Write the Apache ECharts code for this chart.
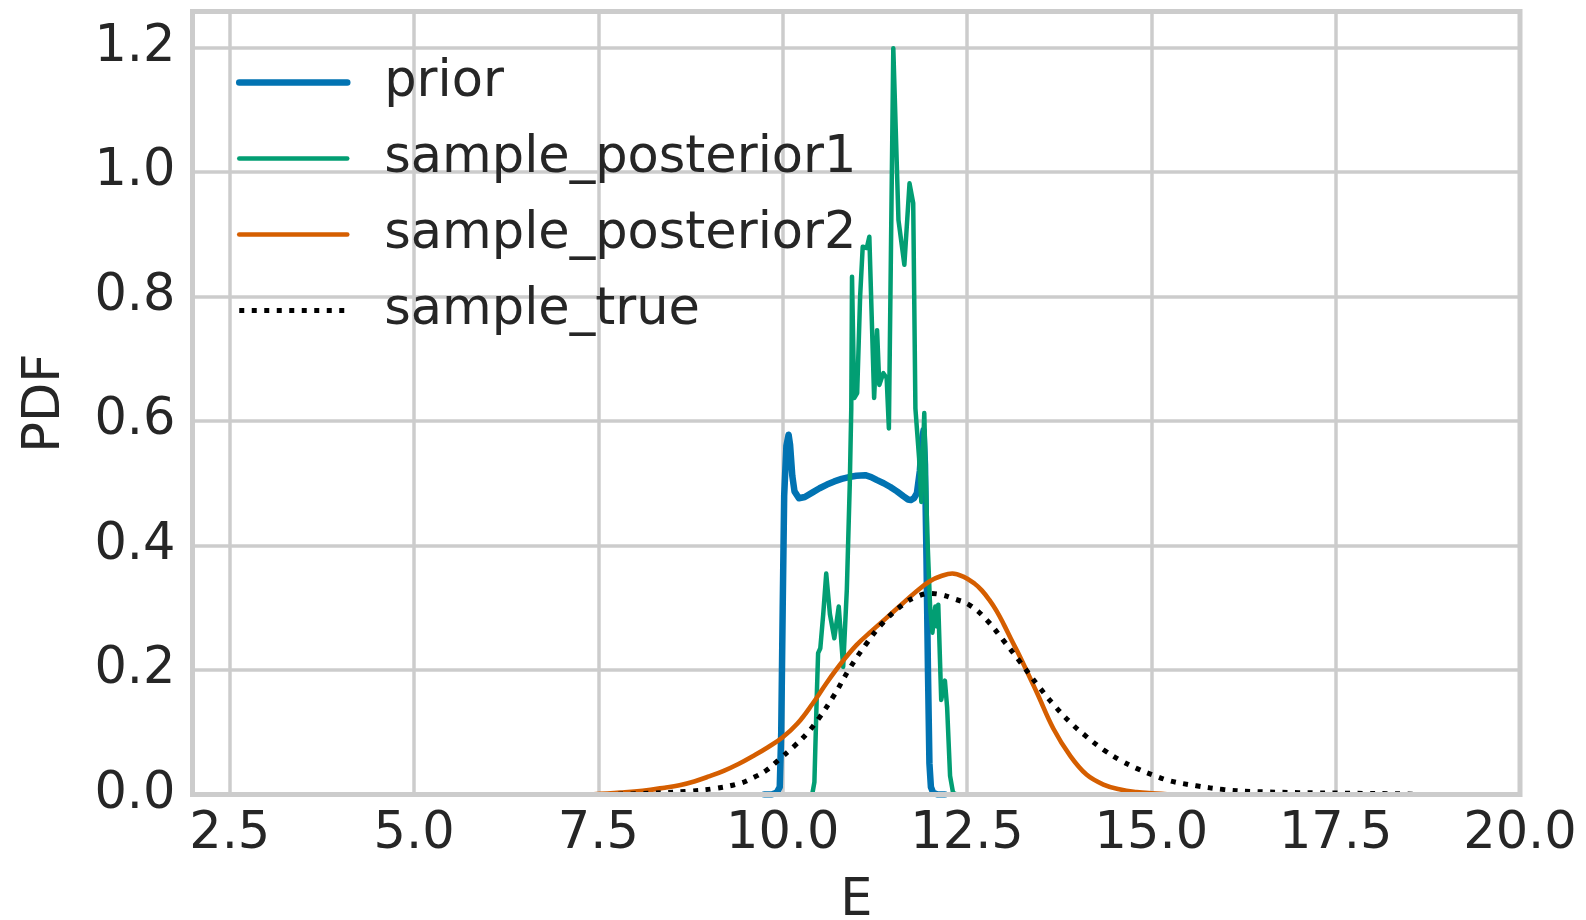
<!DOCTYPE html>
<html>
<head>
<meta charset="utf-8">
<script src="https://cdn.jsdelivr.net/npm/echarts@6/dist/echarts.min.js"></script>
<style>
html,body{margin:0;padding:0;background:#fff;}
#chart{width:1586px;height:920px;}
</style>
</head>
<body>
<div id="chart"></div>
<script>
// ---- data ----
const xTicks = [2.5, 5.0, 7.5, 10.0, 12.5, 15.0, 17.5, 20.0];
const yTicks = [0.0, 0.2, 0.4, 0.6, 0.8, 1.0, 1.2];
const seriesNames = ['prior', 'sample_posterior1', 'sample_posterior2', 'sample_true'];

const priorX = [9.75, 9.85, 9.92, 9.96, 9.98, 10.0, 10.02, 10.05, 10.08, 10.1, 10.13, 10.16, 10.22, 10.3, 10.4, 10.5, 10.6, 10.7, 10.8, 10.9, 11.0, 11.12, 11.2, 11.28, 11.37, 11.46, 11.55, 11.64, 11.7, 11.74, 11.78, 11.82, 11.86, 11.89, 11.91, 11.93, 11.95, 11.97, 11.99, 12.01, 12.04, 12.1, 12.2];
const priorY = [0.0, 0.0, 0.003, 0.012, 0.1, 0.3, 0.48, 0.56, 0.578, 0.562, 0.512, 0.487, 0.476, 0.478, 0.485, 0.492, 0.498, 0.503, 0.507, 0.51, 0.512, 0.513, 0.51, 0.505, 0.5, 0.494, 0.487, 0.479, 0.474, 0.473, 0.476, 0.484, 0.52, 0.57, 0.585, 0.53, 0.38, 0.2, 0.05, 0.012, 0.003, 0.0, 0.0];

const post1X = [10.35, 10.4, 10.43, 10.46, 10.48, 10.51, 10.55, 10.59, 10.64, 10.7, 10.76, 10.82, 10.87, 10.91, 10.93, 10.94, 10.97, 11.01, 11.05, 11.085, 11.14, 11.175, 11.24, 11.28, 11.31, 11.365, 11.41, 11.44, 11.5, 11.57, 11.65, 11.72, 11.77, 11.8, 11.85, 11.88, 11.92, 11.96, 12.0, 12.03, 12.07, 12.09, 12.11, 12.15, 12.2, 12.23, 12.27, 12.31, 12.36];
const post1Y = [0.0, 0.0, 0.02, 0.15, 0.227, 0.235, 0.29, 0.355, 0.29, 0.251, 0.302, 0.205, 0.33, 0.5, 0.62, 0.832, 0.637, 0.645, 0.8, 0.88, 0.878, 0.896, 0.637, 0.746, 0.658, 0.677, 0.669, 0.588, 1.199, 0.923, 0.851, 0.982, 0.95, 0.62, 0.54, 0.47, 0.613, 0.42, 0.3, 0.26, 0.302, 0.27, 0.305, 0.152, 0.183, 0.14, 0.03, 0.003, 0.0];

const post2X = [7.4, 7.8, 8.1, 8.4, 8.6, 8.8, 9.0, 9.2, 9.4, 9.6, 9.8, 10.0, 10.2, 10.4, 10.6, 10.8, 11.0, 11.2, 11.4, 11.6, 11.8, 12.0, 12.15, 12.3, 12.45, 12.6, 12.7, 12.8, 12.9, 13.0, 13.1, 13.22, 13.45, 13.67, 13.9, 14.12, 14.35, 14.58, 14.8, 15.0, 15.3];
const post2Y = [0.0, 0.003, 0.006, 0.011, 0.015, 0.021, 0.029, 0.038, 0.049, 0.062, 0.076, 0.092, 0.114, 0.145, 0.18, 0.212, 0.24, 0.262, 0.283, 0.304, 0.325, 0.343, 0.351, 0.355, 0.35, 0.339, 0.328, 0.313, 0.295, 0.273, 0.249, 0.221, 0.163, 0.106, 0.062, 0.032, 0.016, 0.008, 0.004, 0.002, 0.0];

const trueX = [7.6, 8.2, 8.7, 9.1, 9.42, 9.6, 9.78, 9.95, 10.15, 10.33, 10.5, 10.7, 10.91, 11.14, 11.36, 11.64, 11.82, 12.0, 12.15, 12.31, 12.54, 12.77, 12.99, 13.22, 13.45, 13.67, 13.9, 14.12, 14.35, 14.58, 14.8, 15.03, 15.25, 15.61, 15.98, 16.34, 17.0, 17.7, 18.4, 18.6];
const trueY = [0.0, 0.002, 0.005, 0.01, 0.018, 0.027, 0.039, 0.056, 0.077, 0.098, 0.124, 0.16, 0.203, 0.243, 0.276, 0.306, 0.318, 0.323, 0.321, 0.315, 0.304, 0.28, 0.248, 0.213, 0.177, 0.145, 0.116, 0.093, 0.072, 0.055, 0.042, 0.031, 0.022, 0.014, 0.008, 0.005, 0.003, 0.002, 0.001, 0.0];

// ---- build chart ----
const pairs = (xs, ys) => xs.map((x, i) => [x, ys[i]]);
const FONT = 'DejaVu Sans';
const TXT = '#262626';
const GRIDC = '#cccccc';
const COLORS = ['#0173B2', '#029E73', '#D55E00', '#000000'];
const WIDTHS = [6.5, 4.5, 4.6, 5];
const DOT = [5, 7.5];

const chart = echarts.init(document.getElementById('chart'), null, {renderer: 'canvas'});
chart.setOption({
  animation: false,
  backgroundColor: '#ffffff',
  textStyle: {fontFamily: FONT, color: TXT},
  grid: {
    left: 192.5, right: 66, top: 11.5, bottom: 125.5,
    outerBoundsMode: 'none', containLabel: false,
    show: true, z: 5, borderColor: GRIDC, borderWidth: 5, backgroundColor: 'transparent'
  },
  legend: {
    orient: 'vertical', left: 236, top: 57, padding: 0,
    itemWidth: 108, itemHeight: 1, itemGap: 25,
    itemStyle: {opacity: 0},
    textStyle: {fontFamily: FONT, fontSize: 51, color: TXT, padding: [0, 0, 0, 32]},
    data: seriesNames.map((n, i) => ({
      name: n,
      lineStyle: {color: COLORS[i], width: WIDTHS[i], type: i === 3 ? DOT : 'solid', cap: i === 3 ? 'butt' : 'round'}
    }))
  },
  xAxis: {
    type: 'value', min: 1.995, max: 20.0,
    name: 'E', nameLocation: 'middle', nameGap: 82,
    nameTextStyle: {fontFamily: FONT, fontSize: 51, color: TXT},
    axisLine: {show: false},
    axisTick: {show: false, customValues: xTicks},
    axisLabel: {customValues: xTicks, fontFamily: FONT, fontSize: 51, color: TXT, margin: 15,
      formatter: v => Number(v).toFixed(1)},
    splitLine: {show: true, lineStyle: {color: GRIDC, width: 3.5}}
  },
  yAxis: {
    type: 'value', min: 0, max: 1.258,
    name: 'PDF', nameLocation: 'middle', nameGap: 121,
    nameTextStyle: {fontFamily: FONT, fontSize: 51, color: TXT},
    axisLine: {show: false},
    axisTick: {show: false, customValues: yTicks},
    axisLabel: {customValues: yTicks, fontFamily: FONT, fontSize: 51, color: TXT, margin: 17,
      formatter: v => Number(v).toFixed(1)},
    splitLine: {show: true, lineStyle: {color: GRIDC, width: 3.5}}
  },
  series: [
    {name: seriesNames[0], type: 'line', data: pairs(priorX, priorY), symbol: 'none', showSymbol: false,
     color: COLORS[0], lineStyle: {color: COLORS[0], width: WIDTHS[0], join: 'round', cap: 'round'}},
    {name: seriesNames[1], type: 'line', data: pairs(post1X, post1Y), symbol: 'none', showSymbol: false,
     color: COLORS[1], lineStyle: {color: COLORS[1], width: WIDTHS[1], join: 'round', cap: 'round'}},
    {name: seriesNames[2], type: 'line', data: pairs(post2X, post2Y), symbol: 'none', showSymbol: false, smooth: 0.4,
     color: COLORS[2], lineStyle: {color: COLORS[2], width: WIDTHS[2], join: 'round', cap: 'round'}},
    {name: seriesNames[3], type: 'line', data: pairs(trueX, trueY), symbol: 'none', showSymbol: false, smooth: 0.4,
     color: COLORS[3], lineStyle: {color: COLORS[3], width: WIDTHS[3], type: DOT, cap: 'butt'}}
  ]
});
</script>
</body>
</html>
